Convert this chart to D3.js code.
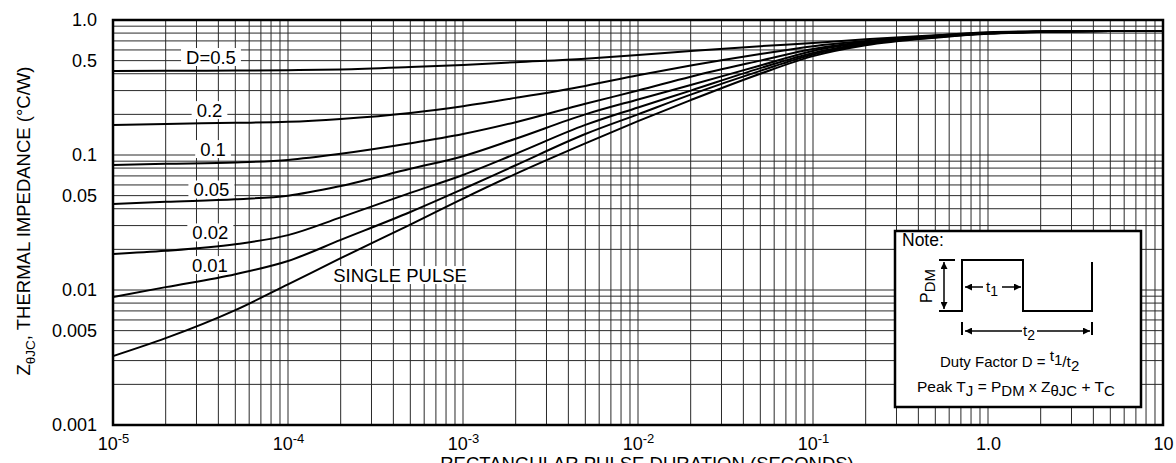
<!DOCTYPE html>
<html>
<head>
<meta charset="utf-8">
<script src="https://cdn.jsdelivr.net/npm/d3@7"></script>
<style>
  body { margin: 0; background: #fff; }
  text { font-family: "Liberation Sans", Arial, sans-serif; fill: #000; }
</style>
</head>
<body>
<div id="chart"></div>
<script>
// pulse durations (s) where the curves were read
const durations = [1e-5, 2e-5, 5e-5, 1e-4, 2e-4, 5e-4, 1e-3, 2e-3, 5e-3, 1e-2, 2e-2, 5e-2, 0.1, 0.2, 0.5, 1, 2, 5, 10];

// Z thetaJC (degC/W) for every duty factor
const zD50 = [0.419, 0.420, 0.422, 0.425, 0.430, 0.448, 0.465, 0.487, 0.517, 0.550, 0.590, 0.640, 0.676, 0.720, 0.770, 0.810, 0.825, 0.830, 0.830];
const zD20 = [0.167, 0.170, 0.173, 0.176, 0.185, 0.205, 0.230, 0.265, 0.325, 0.390, 0.460, 0.560, 0.640, 0.700, 0.765, 0.805, 0.822, 0.830, 0.830];
const zD10 = [0.0843, 0.086, 0.088, 0.092, 0.102, 0.122, 0.143, 0.175, 0.240, 0.300, 0.380, 0.500, 0.610, 0.690, 0.760, 0.800, 0.820, 0.830, 0.830];
const zD05 = [0.0433, 0.0450, 0.0470, 0.0500, 0.0590, 0.0790, 0.0980, 0.132, 0.200, 0.258, 0.330, 0.460, 0.590, 0.680, 0.755, 0.800, 0.820, 0.830, 0.830];
const zD02 = [0.0185, 0.0195, 0.0218, 0.0255, 0.0345, 0.0524, 0.0711, 0.102, 0.167, 0.225, 0.300, 0.440, 0.570, 0.670, 0.750, 0.798, 0.818, 0.830, 0.830];
const zD01 = [0.00887, 0.0105, 0.0131, 0.0164, 0.0235, 0.0378, 0.056, 0.084, 0.143, 0.200, 0.280, 0.420, 0.555, 0.660, 0.745, 0.795, 0.816, 0.830, 0.830];
const zSingle = [0.00324, 0.00440, 0.0071, 0.0110, 0.0172, 0.0305, 0.0475, 0.0725, 0.122, 0.178, 0.255, 0.400, 0.540, 0.650, 0.740, 0.790, 0.815, 0.830, 0.830];

const seriesNames = ["D=0.5", "0.2", "0.1", "0.05", "0.02", "0.01", "SINGLE PULSE"];
const seriesValues = [zD50, zD20, zD10, zD05, zD02, zD01, zSingle];
// where each curve label sits, in data units (t, Z)
const labelT = [3.63e-5, 3.56e-5, 3.73e-5, 3.65e-5, 3.6e-5, 3.58e-5, 4.37e-4];
const labelZ = [0.532, 0.215, 0.1107, 0.0555, 0.0267, 0.0153, 0.0129];

const xTickValues = [1e-5, 1e-4, 1e-3, 1e-2, 1e-1, 1, 10];
const xTickLabels = [["10", "-5"], ["10", "-4"], ["10", "-3"], ["10", "-2"], ["10", "-1"], ["1.0", ""], ["10", ""]];
const yTickValues = [0.001, 0.005, 0.01, 0.05, 0.1, 0.5, 1];
const yTickLabels = ["0.001", "0.005", "0.01", "0.05", "0.1", "0.5", "1.0"];

const margin = { top: 20, right: 13, bottom: 38, left: 113 };
const width = 1176 - margin.left - margin.right;
const height = 463 - margin.top - margin.bottom;

const svgRoot = d3.select("#chart")
  .append("svg")
  .attr("width", 1176)
  .attr("height", 463);

const svg = svgRoot.append("g")
  .attr("transform", `translate(${margin.left},${margin.top})`);

const x = d3.scaleLog().domain([1e-5, 10]).range([0, width]);
const y = d3.scaleLog().domain([0.001, 1]).range([height, 0]);

// log grid
const xGrid = [];
for (let e = -5; e < 1; e++) for (let m = 1; m < 10; m++) xGrid.push(m * Math.pow(10, e));
xGrid.push(10);
const yGrid = [];
for (let e = -3; e < 0; e++) for (let m = 1; m < 10; m++) yGrid.push(m * Math.pow(10, e));
yGrid.push(1);

svg.append("g")
  .selectAll("line")
  .data(xGrid)
  .enter()
  .append("line")
  .attr("x1", (d) => x(d))
  .attr("x2", (d) => x(d))
  .attr("y1", 0)
  .attr("y2", height)
  .attr("stroke", "#2a2a2a")
  .attr("stroke-width", 1);

svg.append("g")
  .selectAll("line")
  .data(yGrid)
  .enter()
  .append("line")
  .attr("x1", 0)
  .attr("x2", width)
  .attr("y1", (d) => y(d))
  .attr("y2", (d) => y(d))
  .attr("stroke", "#2a2a2a")
  .attr("stroke-width", 1);

// curve labels with white boxes
const labelG = svg.append("g");
seriesNames.forEach((name, i) => {
  const t = labelG.append("text")
    .attr("x", x(labelT[i]))
    .attr("y", y(labelZ[i]))
    .attr("dy", "0.36em")
    .attr("text-anchor", "middle")
    .style("font-size", "18.5px")
    .text(name);
  const bb = t.node().getBBox();
  labelG.insert("rect", "text")
    .attr("x", bb.x - 5)
    .attr("y", y(labelZ[i]) - 9)
    .attr("width", bb.width + 10)
    .attr("height", 18)
    .attr("fill", "#fff");
});

// curves
const line = d3.line()
  .x((d) => x(d[0]))
  .y((d) => y(d[1]))
  .curve(d3.curveMonotoneX);

seriesValues.forEach((vals) => {
  svg.append("path")
    .datum(durations.map((t, j) => [t, vals[j]]))
    .attr("fill", "none")
    .attr("stroke", "#000")
    .attr("stroke-width", 2)
    .attr("d", line);
});

svg.append("rect")
  .attr("width", width)
  .attr("height", height)
  .attr("fill", "none")
  .attr("stroke", "#000")
  .attr("stroke-width", 2.5);

// axes
const xAxis = svg.append("g")
  .attr("transform", `translate(0,${height})`)
  .call(d3.axisBottom(x).tickValues(xTickValues).tickSize(0).tickPadding(12).tickFormat(() => ""));
xAxis.select(".domain").remove();
xAxis.selectAll(".tick text").each(function (d, i) {
  const t = d3.select(this).style("font-size", "18px");
  t.append("tspan").text(xTickLabels[i][0]);
  if (xTickLabels[i][1]) {
    t.append("tspan").attr("dy", -7).style("font-size", "13px").text(xTickLabels[i][1]);
  }
});

const yAxis = svg.append("g")
  .call(d3.axisLeft(y).tickValues(yTickValues).tickSize(0).tickPadding(16)
    .tickFormat((d, i) => yTickLabels[i]));
yAxis.select(".domain").remove();
yAxis.selectAll(".tick text").style("font-size", "18px");

// axis titles
svgRoot.append("text")
  .attr("x", 647)
  .attr("y", 470)
  .attr("text-anchor", "middle")
  .style("font-size", "18.5px")
  .text("RECTANGULAR PULSE DURATION (SECONDS)");

function richText(sel, runs) {
  let offset = 0;
  runs.forEach((r) => {
    const target = r.dy || 0;
    sel.append("tspan")
      .attr("dy", target - offset)
      .style("font-size", r.size)
      .text(r.t);
    offset = target;
  });
}

const yTitle = svgRoot.append("text")
  .attr("transform", "translate(30,221) rotate(-90)")
  .attr("text-anchor", "middle");
richText(yTitle, [
  { t: "Z", size: "18.5px" },
  { t: "θJC", size: "13.5px", dy: 5 },
  { t: ", THERMAL IMPEDANCE (°C/W)", size: "18.5px" },
]);

// note box
const note = svgRoot.append("g").attr("transform", "translate(895,231)");
const defs = svgRoot.append("defs");
defs.append("marker")
  .attr("id", "arr")
  .attr("viewBox", "0 0 10 10")
  .attr("refX", 10)
  .attr("refY", 5)
  .attr("markerWidth", 9)
  .attr("markerHeight", 7)
  .attr("markerUnits", "userSpaceOnUse")
  .attr("orient", "auto")
  .append("path")
  .attr("d", "M0,0L10,5L0,10Z")
  .attr("fill", "#000");

note.append("rect")
  .attr("width", 246)
  .attr("height", 176)
  .attr("fill", "#fff")
  .attr("stroke", "#000")
  .attr("stroke-width", 2.5);

note.append("text").attr("x", 7).attr("y", 15).style("font-size", "17.5px").text("Note:");

const drawn = [
  "M44,80H67V29H128V80H197V31",
  "M44,29H60",
  "M67,91V104",
  "M197,91V104",
];
drawn.forEach((d) => {
  note.append("path").attr("d", d).attr("fill", "none").attr("stroke", "#000").attr("stroke-width", 2);
});

const arrows = [
  [49, 54, 49, 31], [49, 54, 49, 78],
  [88, 56, 70, 56], [107, 56, 126, 56],
  [127, 100, 70, 100], [142, 100, 195, 100],
];
arrows.forEach((a) => {
  note.append("line")
    .attr("x1", a[0]).attr("y1", a[1]).attr("x2", a[2]).attr("y2", a[3])
    .attr("stroke", "#000").attr("stroke-width", 1.5)
    .attr("marker-end", "url(#arr)");
});

const pdm = note.append("text")
  .attr("transform", "translate(37,55) rotate(-90)")
  .attr("text-anchor", "middle");
richText(pdm, [{ t: "P", size: "16px" }, { t: "DM", size: "15px", dy: 3 }]);

const t1 = note.append("text").attr("x", 97).attr("y", 61).attr("text-anchor", "middle");
richText(t1, [{ t: "t", size: "15px" }, { t: "1", size: "14px", dy: 4 }]);
const t2 = note.append("text").attr("x", 134).attr("y", 105).attr("text-anchor", "middle");
richText(t2, [{ t: "t", size: "15px" }, { t: "2", size: "14px", dy: 4 }]);

const duty = note.append("text").attr("x", 45).attr("y", 136);
richText(duty, [
  { t: "Duty Factor  D = ", size: "15px" },
  { t: "t", size: "15.5px", dy: -6 },
  { t: "1", size: "15px", dy: -2 },
  { t: "/", size: "15.5px", dy: 0 },
  { t: "t", size: "15.5px", dy: 0 },
  { t: "2", size: "15px", dy: 4 },
]);

const peak = note.append("text").attr("x", 22).attr("y", 161);
richText(peak, [
  { t: "Peak T", size: "15.5px" },
  { t: "J", size: "15px", dy: 4 },
  { t: " = P", size: "15.5px" },
  { t: "DM", size: "15px", dy: 4 },
  { t: " x Z", size: "15.5px" },
  { t: "θJC", size: "15px", dy: 4 },
  { t: " + T", size: "15.5px" },
  { t: "C", size: "15px", dy: 4 },
]);
</script>
</body>
</html>
